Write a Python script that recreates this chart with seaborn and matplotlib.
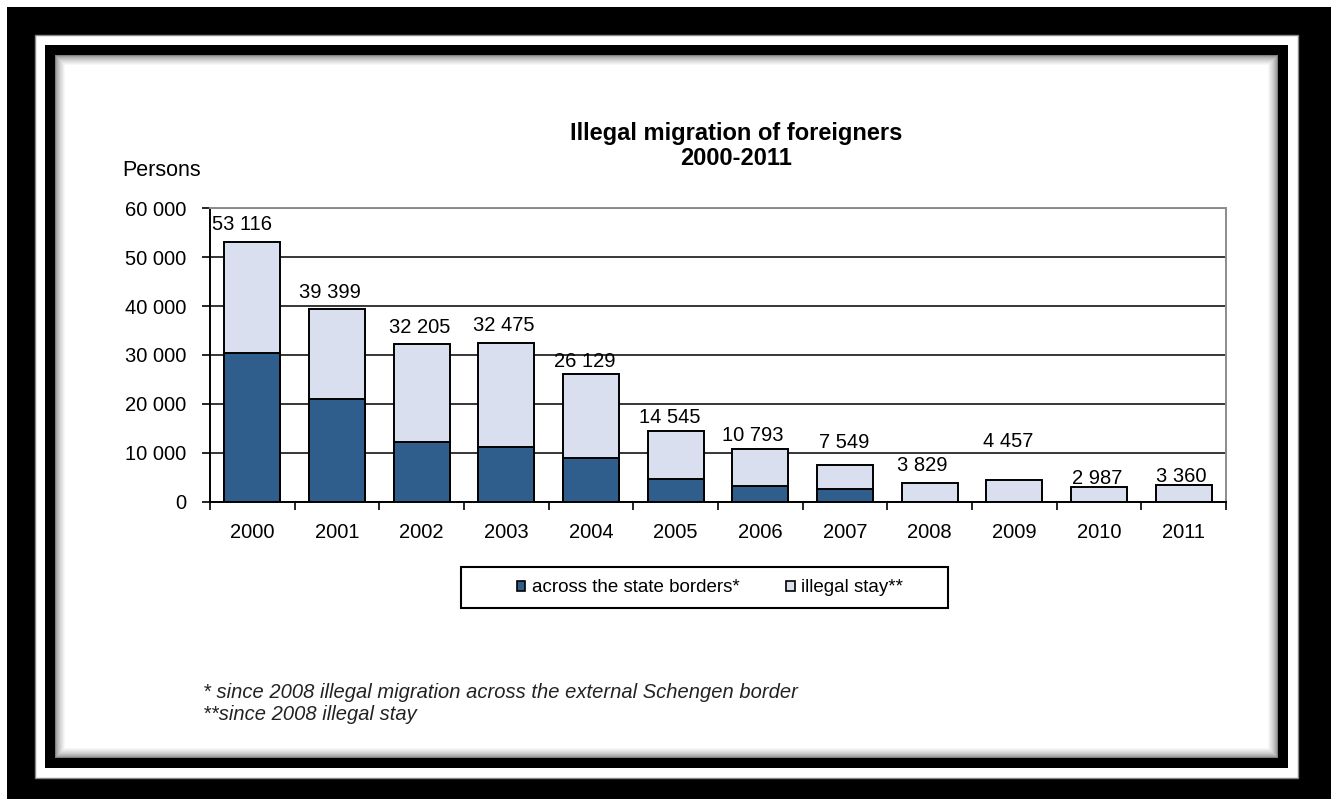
import numpy as np
import pandas as pd
import matplotlib
matplotlib.use("Agg")
import matplotlib.pyplot as plt
import seaborn as sns
from matplotlib.patches import Rectangle, Patch

# ---------------- data ----------------
years = ["2000", "2001", "2002", "2003", "2004", "2005",
         "2006", "2007", "2008", "2009", "2010", "2011"]
totals = [53116, 39399, 32205, 32475, 26129, 14545,
          10793, 7549, 3829, 4457, 2987, 3360]
across_borders = [30400, 20900, 12300, 11100, 9000, 4600,
                  3300, 2500, 0, 0, 0, 0]
total_labels = ["53 116", "39 399", "32 205", "32 475", "26 129", "14 545",
                "10 793", "7 549", "3 829", "4 457", "2 987", "3 360"]
ytick_values = [0, 10000, 20000, 30000, 40000, 50000, 60000]
ytick_labels = ["0", "10 000", "20 000", "30 000", "40 000", "50 000", "60 000"]
series_names = ["across the state borders*", "illegal stay**"]
title_text = "Illegal migration of foreigners\n2000-2011"
unit_text = "Persons"
footnotes = ["* since 2008 illegal migration across the external Schengen border",
             "**since 2008 illegal stay"]

# label placement tweaks (pixels), styling only
label_dx = [-10, -7, -2, -3, -6, -6, -8, -1, -7, -6, -2, -2]
label_dy = [17, 17, 17, 17, 12, 13, 13, 22, 17, 38, 9, 9]

DARK = "#305E8C"
LIGHT = "#D9DFEE"

plt.rcParams["font.family"] = ["Liberation Sans", "DejaVu Sans"]

W, H = 1331, 799
fig = plt.figure(figsize=(W / 100, H / 100), dpi=100)
fig.patch.set_facecolor("white")

# ---------------- decorative frame ----------------
bg = fig.add_axes([0, 0, 1, 1], zorder=0)
bg.set_xlim(0, W)
bg.set_ylim(H, 0)
bg.axis("off")


def rect(x0, y0, x1, y1, fc, ec="none", lw=0):
    bg.add_patch(Rectangle((x0, y0), x1 - x0, y1 - y0, facecolor=fc,
                           edgecolor=ec, linewidth=lw))


rect(7, 7, W, H, "black")
rect(35, 35, 1298, 778, "white", ec="#888888", lw=1)
rect(45, 45, 1288, 768, "black")
steps = 11
for i in range(steps):
    t = i / (steps - 1)
    g = 0.50 + 0.50 * t ** 0.6
    rect(55 + i, 55 + i, 1278 - i, 758 - i, (g, g, g))
rect(55 + steps, 55 + steps, 1278 - steps, 758 - steps, "white")

# ---------------- main chart ----------------
ax = fig.add_axes([210 / W, 1 - 501.7 / H, 1016 / W, 293.4 / H], zorder=2)
ax.set_facecolor("none")

df = pd.DataFrame({"year": years, "total": totals, "across": across_borders})
sns.barplot(data=df, x="year", y="total", color=LIGHT, saturation=1,
            edgecolor="black", linewidth=1.4, width=0.66, errorbar=None, ax=ax)
sns.barplot(data=df, x="year", y="across", color=DARK, saturation=1,
            edgecolor="black", linewidth=1.4, width=0.66, errorbar=None, ax=ax)

ax.set_xlim(-0.5, 11.5)
ax.set_ylim(0, 60000)
ax.set_xlabel("")
ax.set_ylabel("")

FS = 14.5
ax.set_yticks(ytick_values)
ax.set_yticklabels(ytick_labels, fontsize=FS)
ax.yaxis.grid(True, color="black", linewidth=1.1)
ax.xaxis.grid(False)
ax.set_axisbelow(True)

ax.set_xticks(np.arange(-0.5, 12, 1))
ax.set_xticklabels([])
ax.set_xticks(np.arange(12), minor=True)
ax.set_xticklabels(years, minor=True, fontsize=FS)
ax.tick_params(axis="x", which="major", length=6, width=1.2, direction="out")
ax.tick_params(axis="x", which="minor", length=0, pad=15)
ax.tick_params(axis="y", length=6, width=1.2, direction="out", pad=11)

for s in ["left", "bottom"]:
    ax.spines[s].set_color("black")
    ax.spines[s].set_linewidth(1.4)
for s in ["top", "right"]:
    ax.spines[s].set_color("#8c8c8c")
    ax.spines[s].set_linewidth(1.4)

for i, (v, lab) in enumerate(zip(totals, total_labels)):
    ax.annotate(lab, (i, v), xytext=(label_dx[i], label_dy[i]),
                textcoords="offset pixels", ha="center", va="center",
                fontsize=FS, color="black")

# ---------------- texts ----------------
fig.text(736 / W, 1 - 146 / H, title_text, ha="center", va="center",
         fontsize=17, fontweight="bold", linespacing=1.1)
fig.text(122 / W, 1 - 171 / H, unit_text, ha="left", va="center", fontsize=15.5)

fig.text(203 / W, 1 - 693 / H, footnotes[0], ha="left", va="center",
         fontsize=14.5, style="italic", color="#222222")
fig.text(203 / W, 1 - 715 / H, footnotes[1], ha="left", va="center",
         fontsize=14.5, style="italic", color="#222222")

# ---------------- legend ----------------
rect(461, 567, 948, 608, "white", ec="black", lw=1.5)
handles = [Patch(facecolor=DARK, edgecolor="black", linewidth=1.2),
           Patch(facecolor=LIGHT, edgecolor="black", linewidth=1.2)]
leg = fig.legend(handles, series_names, loc="center",
                 bbox_to_anchor=(710 / W, 1 - 588 / H), ncol=2, frameon=False,
                 fontsize=13.5, handlelength=0.45, handleheight=0.45,
                 handletextpad=0.35, columnspacing=2.5)
leg.set_zorder(5)

fig.savefig("out.png", dpi=100, facecolor="white")
